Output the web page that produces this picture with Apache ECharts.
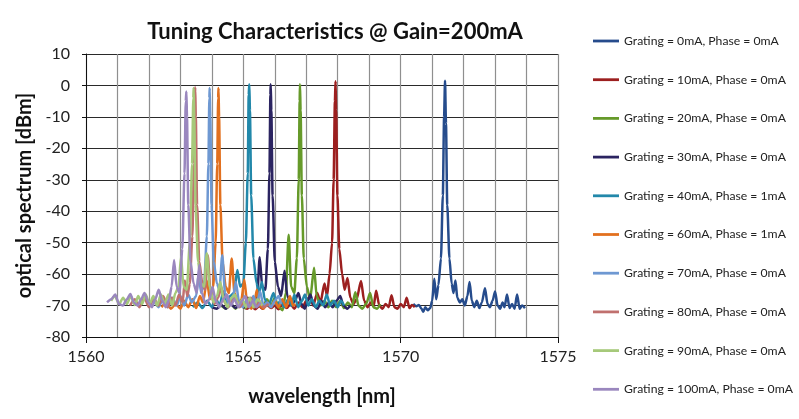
<!DOCTYPE html>
<html>
<head>
<meta charset="utf-8">
<script src="https://cdn.jsdelivr.net/npm/echarts@6/dist/echarts.min.js"></script>
<style>
html,body{margin:0;padding:0;background:#fff;}
#chart{width:799px;height:419px;}
</style>
</head>
<body>
<div id="chart"></div>
<script>
// ---- Data: [wavelength nm, power dBm] ----
const seriesNames = [
  'Grating = 0mA, Phase = 0mA',
  'Grating = 10mA, Phase = 0mA',
  'Grating = 20mA, Phase = 0mA',
  'Grating = 30mA, Phase = 0mA',
  'Grating = 40mA, Phase = 1mA',
  'Grating = 60mA, Phase = 1mA',
  'Grating = 70mA, Phase = 0mA',
  'Grating = 80mA, Phase = 0mA',
  'Grating = 90mA, Phase = 0mA',
  'Grating = 100mA, Phase = 0mA'
];
const seriesColors = ['#264c8c','#9c1f1f','#669a2a','#2b2461','#2288aa','#e2701e','#6e98d2','#c0706e','#a6c97a','#9a87be'];

const g0 = [[1570.40,-69.5],[1570.50,-70.2],[1570.58,-69.8],[1570.66,-71.0],[1570.72,-72.0],[1570.78,-70.5],[1570.86,-71.5],[1570.94,-70.8],[1571.00,-68.5],[1571.07,-61.5],[1571.13,-68.0],[1571.20,-63.5],[1571.28,-55],[1571.34,-35],[1571.38,-10],[1571.41,1.5],[1571.44,-12],[1571.48,-38],[1571.55,-55],[1571.62,-63],[1571.68,-66],[1571.74,-62],[1571.80,-67.5],[1571.88,-69],[1571.96,-68],[1572.04,-70],[1572.12,-67],[1572.19,-62.5],[1572.26,-68.5],[1572.34,-70.5],[1572.42,-68.5],[1572.50,-70.8],[1572.58,-69],[1572.68,-64.5],[1572.76,-69.5],[1572.84,-70.5],[1572.92,-68.5],[1573.00,-65.5],[1573.08,-70],[1573.16,-71],[1573.24,-69],[1573.30,-70.5],[1573.38,-66.5],[1573.46,-70.8],[1573.54,-69.5],[1573.62,-71],[1573.70,-66.5],[1573.78,-71],[1573.86,-70],[1573.95,-70.8]];
const g10 = [[1565.00,-70.5],[1565.12,-71],[1565.25,-70],[1565.38,-71.2],[1565.50,-70.2],[1565.62,-71],[1565.75,-69.8],[1565.88,-70.8],[1566.00,-70],[1566.12,-71.2],[1566.25,-69.5],[1566.38,-70.8],[1566.50,-69.5],[1566.62,-71],[1566.75,-69],[1566.88,-70.5],[1567.00,-68.5],[1567.12,-67],[1567.22,-70],[1567.35,-66],[1567.45,-69],[1567.58,-63],[1567.66,-67],[1567.74,-60],[1567.82,-50],[1567.87,-30],[1567.91,-5],[1567.93,1.3],[1567.95,-8],[1567.99,-35],[1568.05,-52],[1568.14,-60],[1568.22,-65],[1568.31,-61.2],[1568.40,-67.5],[1568.50,-69.5],[1568.60,-68],[1568.74,-62.2],[1568.84,-68.5],[1568.95,-70.5],[1569.05,-69],[1569.14,-70.2],[1569.22,-65.3],[1569.32,-70],[1569.42,-71],[1569.52,-69.5],[1569.62,-70.5],[1569.71,-66.7],[1569.80,-70.5],[1569.90,-71],[1570.00,-69.5],[1570.10,-70.5],[1570.19,-67.5],[1570.28,-70.8],[1570.36,-69.8],[1570.45,-70.5]];
const g20 = [[1564.30,-70],[1564.45,-71],[1564.60,-69.5],[1564.75,-71],[1564.90,-69.5],[1565.05,-70.8],[1565.20,-69],[1565.35,-70.5],[1565.50,-68.5],[1565.62,-70.5],[1565.75,-68],[1565.88,-70],[1566.00,-67.5],[1566.12,-70.5],[1566.25,-71.5],[1566.35,-66],[1566.44,-47.5],[1566.52,-64],[1566.62,-66],[1566.70,-55],[1566.76,-30],[1566.79,-5],[1566.80,0.4],[1566.82,-8],[1566.86,-35],[1566.92,-55],[1567.02,-64],[1567.12,-68],[1567.25,-58],[1567.33,-67],[1567.45,-70],[1567.58,-68.5],[1567.70,-70.5],[1567.82,-68.5],[1567.95,-70.5],[1568.08,-68.5],[1568.20,-70.8],[1568.32,-69],[1568.45,-70.5],[1568.56,-65.8],[1568.66,-70],[1568.78,-71],[1568.90,-69.5],[1569.03,-66],[1569.13,-70.5],[1569.25,-71],[1569.35,-69.5]];
const g30 = [[1564.00,-70.5],[1564.15,-71],[1564.30,-69.8],[1564.45,-71],[1564.60,-69.5],[1564.75,-70.8],[1564.90,-69],[1565.02,-70.5],[1565.14,-67.5],[1565.25,-70],[1565.35,-68],[1565.44,-67],[1565.52,-54.6],[1565.60,-64],[1565.70,-65],[1565.78,-52],[1565.83,-28],[1565.86,-3],[1565.87,0.4],[1565.89,-8],[1565.93,-35],[1566.00,-56],[1566.10,-64],[1566.20,-67],[1566.31,-58.9],[1566.40,-67],[1566.52,-70],[1566.64,-68.5],[1566.75,-66],[1566.85,-69.5],[1566.95,-71],[1567.05,-68.5],[1567.13,-66.5],[1567.24,-70],[1567.36,-71],[1567.48,-68.5],[1567.60,-70.5],[1567.72,-69],[1567.84,-70.5],[1567.96,-68.5],[1568.08,-67],[1568.18,-70],[1568.30,-71],[1568.40,-70]];
const g40 = [[1563.40,-70.5],[1563.55,-69],[1563.70,-70.8],[1563.85,-68.5],[1564.00,-70.5],[1564.12,-67.5],[1564.24,-70],[1564.37,-65.5],[1564.48,-69],[1564.58,-67],[1564.70,-66],[1564.81,-58.7],[1564.90,-64],[1565.00,-63],[1565.08,-50],[1565.14,-28],[1565.17,-3],[1565.19,0.4],[1565.21,-8],[1565.25,-35],[1565.32,-55],[1565.42,-63],[1565.50,-66],[1565.59,-62.5],[1565.68,-68],[1565.80,-70],[1565.96,-66],[1566.06,-70],[1566.18,-68.5],[1566.30,-70.5],[1566.42,-68],[1566.54,-70],[1566.62,-66.5],[1566.74,-70.5],[1566.86,-68.5],[1566.96,-66.5],[1567.06,-70],[1567.18,-68],[1567.30,-70.5],[1567.42,-68.5],[1567.54,-70],[1567.65,-66.5],[1567.76,-70],[1567.88,-68.5],[1568.00,-70.5],[1568.10,-68.5],[1568.20,-70]];
const g60 = [[1562.40,-70.5],[1562.55,-69],[1562.70,-71],[1562.85,-69.5],[1563.00,-71],[1563.12,-68.5],[1563.25,-70.5],[1563.38,-68],[1563.50,-70.8],[1563.62,-67],[1563.72,-69],[1563.84,-62],[1563.94,-68],[1564.04,-64],[1564.12,-50],[1564.17,-25],[1564.20,-4],[1564.21,-0.8],[1564.23,-10],[1564.27,-38],[1564.34,-56],[1564.44,-64],[1564.54,-66],[1564.63,-55],[1564.72,-66],[1564.84,-69.5],[1564.94,-68],[1565.03,-61.7],[1565.12,-69],[1565.25,-71],[1565.36,-68.5],[1565.43,-65],[1565.52,-70],[1565.64,-71],[1565.76,-69],[1565.88,-70.5],[1566.00,-68.5],[1566.12,-70.5],[1566.24,-68],[1566.36,-70.5],[1566.48,-67],[1566.58,-70],[1566.65,-69.5]];
const g70 = [[1562.00,-70.5],[1562.15,-68.5],[1562.30,-70.5],[1562.45,-68],[1562.60,-70.5],[1562.75,-67.5],[1562.88,-70],[1563.00,-67],[1563.12,-70],[1563.25,-66.5],[1563.36,-69],[1563.50,-67],[1563.58,-60],[1563.66,-66],[1563.76,-62],[1563.84,-48],[1563.89,-25],[1563.92,-4],[1563.93,-0.8],[1563.95,-10],[1563.99,-38],[1564.06,-56],[1564.16,-63],[1564.24,-65],[1564.33,-54],[1564.42,-66],[1564.54,-69.5],[1564.66,-68],[1564.76,-62.5],[1564.86,-68.5],[1564.98,-70.5],[1565.10,-68.5],[1565.22,-70],[1565.32,-67],[1565.42,-70],[1565.53,-65.5],[1565.64,-70],[1565.76,-69],[1565.88,-70.5],[1566.00,-68.5],[1566.12,-67],[1566.20,-69.5]];
const g80 = [[1561.40,-70],[1561.55,-68],[1561.70,-70.5],[1561.85,-67.5],[1562.00,-70.5],[1562.15,-67.5],[1562.30,-70],[1562.45,-67],[1562.60,-70.5],[1562.72,-67.5],[1562.84,-70],[1562.96,-66.5],[1563.07,-69],[1563.14,-62],[1563.22,-67],[1563.30,-63],[1563.38,-48],[1563.43,-25],[1563.46,-4],[1563.47,-0.6],[1563.49,-10],[1563.53,-38],[1563.60,-56],[1563.70,-63],[1563.78,-65],[1563.87,-54],[1563.96,-66],[1564.08,-69.5],[1564.20,-67.5],[1564.30,-64],[1564.40,-69],[1564.52,-70.5],[1564.64,-68.5],[1564.76,-67.5],[1564.88,-70.5],[1565.00,-69],[1565.12,-70.5],[1565.24,-67.5],[1565.36,-70.5],[1565.50,-69],[1565.65,-70.5],[1565.80,-69.5]];
const g90 = [[1560.80,-68.5],[1560.92,-67],[1561.05,-69.5],[1561.18,-67.5],[1561.30,-69.5],[1561.42,-67],[1561.55,-69.8],[1561.66,-67],[1561.78,-69.5],[1561.90,-66.5],[1562.02,-69.5],[1562.14,-67],[1562.26,-70],[1562.38,-66.5],[1562.50,-69.5],[1562.62,-66.5],[1562.74,-70],[1562.84,-66],[1562.94,-64],[1563.02,-54.5],[1563.10,-64],[1563.20,-65],[1563.30,-50],[1563.37,-25],[1563.41,-4],[1563.42,-0.8],[1563.44,-10],[1563.48,-38],[1563.56,-56],[1563.66,-63],[1563.75,-64],[1563.84,-53.4],[1563.93,-64],[1564.05,-69],[1564.16,-67],[1564.27,-62.5],[1564.37,-68],[1564.50,-70.5],[1564.62,-67.5],[1564.73,-66.5],[1564.85,-70],[1564.97,-68],[1565.08,-70.5],[1565.20,-67.5],[1565.32,-70.5],[1565.45,-68],[1565.60,-70]];
const g100 = [[1560.67,-69],[1560.80,-68],[1560.93,-66.5],[1561.05,-69.5],[1561.17,-70],[1561.30,-68],[1561.41,-66.3],[1561.52,-69],[1561.64,-70],[1561.75,-68],[1561.86,-66],[1561.98,-69],[1562.10,-70.5],[1562.20,-68],[1562.31,-65],[1562.42,-68.5],[1562.54,-70.5],[1562.64,-68],[1562.72,-64],[1562.80,-55.5],[1562.88,-64],[1562.97,-66],[1563.06,-52],[1563.13,-28],[1563.17,-5],[1563.19,-1.9],[1563.21,-10],[1563.25,-38],[1563.32,-56],[1563.42,-63],[1563.52,-66],[1563.60,-57],[1563.68,-66],[1563.80,-69.5],[1563.92,-68],[1564.02,-64],[1564.12,-68.5],[1564.24,-70.5],[1564.36,-68],[1564.48,-66.5],[1564.60,-70],[1564.72,-68],[1564.84,-70.5],[1564.96,-68.5],[1565.06,-67],[1565.18,-70.5],[1565.30,-68.5],[1565.42,-70.5],[1565.55,-69]];

const seriesData = [g0, g10, g20, g30, g40, g60, g70, g80, g90, g100];
const xTickLabels = [1560, 1565, 1570, 1575];
const yTickLabels = [10, 0, -10, -20, -30, -40, -50, -60, -70, -80];

const FONT = 'Lato, "Open Sans", sans-serif';
const chart = echarts.init(document.getElementById('chart'), null, {renderer: 'canvas'});
const option = {
  animation: false,
  backgroundColor: '#ffffff',
  title: {
    text: 'Tuning Characteristics @ Gain=200mA',
    left: 330, top: 16, textAlign: 'center',
    textStyle: {fontFamily: FONT, fontSize: 22, fontWeight: 'bold', color: '#111'}
  },
  legend: {
    orient: 'vertical', left: 588, top: 30,
    itemWidth: 26, itemHeight: 14, itemGap: 26.7,
    icon: 'path://M0,0L28,0L28,3L0,3Z',
    data: seriesNames,
    textStyle: {fontFamily: FONT, fontSize: 12.2, color: '#222'}
  },
  grid: {left: 86, right: 241, top: 54, bottom: 82, containLabel: false},
  xAxis: {
    type: 'value', min: xTickLabels[0], max: xTickLabels[xTickLabels.length - 1], interval: 5,
    name: 'wavelength [nm]', nameLocation: 'middle', nameGap: 50,
    nameTextStyle: {fontFamily: FONT, fontSize: 20, fontWeight: 'bold', color: '#111'},
    axisLine: {show: true, onZero: false, lineStyle: {color: '#111', width: 1}},
    axisTick: {show: true, inside: false, length: 6, lineStyle: {color: '#111'}},
    axisLabel: {fontFamily: FONT, fontSize: 16, color: '#222', margin: 12, formatter: v => String(v)},
    splitLine: {show: true, lineStyle: {color: '#8f8f8f', width: 1.2}},
    minorTick: {show: false, splitNumber: 5},
    minorSplitLine: {show: true, lineStyle: {color: '#8f8f8f', width: 1.2}}
  },
  yAxis: {
    type: 'value', min: yTickLabels[yTickLabels.length - 1], max: yTickLabels[0], interval: 10,
    name: 'optical spectrum [dBm]', nameLocation: 'middle', nameGap: 42,
    nameTextStyle: {fontFamily: FONT, fontSize: 20, fontWeight: 'bold', color: '#111'},
    axisLine: {show: true, lineStyle: {color: '#111', width: 1}},
    axisTick: {show: true, length: 4, lineStyle: {color: '#111'}},
    axisLabel: {fontFamily: FONT, fontSize: 16, color: '#222', margin: 16},
    splitLine: {show: true, lineStyle: {color: '#2a2a2a', width: 1.2}}
  },
  series: seriesNames.map((name, i) => ({
    name: name,
    type: 'line',
    data: seriesData[i],
    symbol: 'none',
    smooth: 0.25,
    smoothMonotone: 'x',
    color: seriesColors[i],
    lineStyle: {width: 2.5, color: seriesColors[i]},
    z: 2 + i
  }))
};
chart.setOption(option);
</script>
</body>
</html>
